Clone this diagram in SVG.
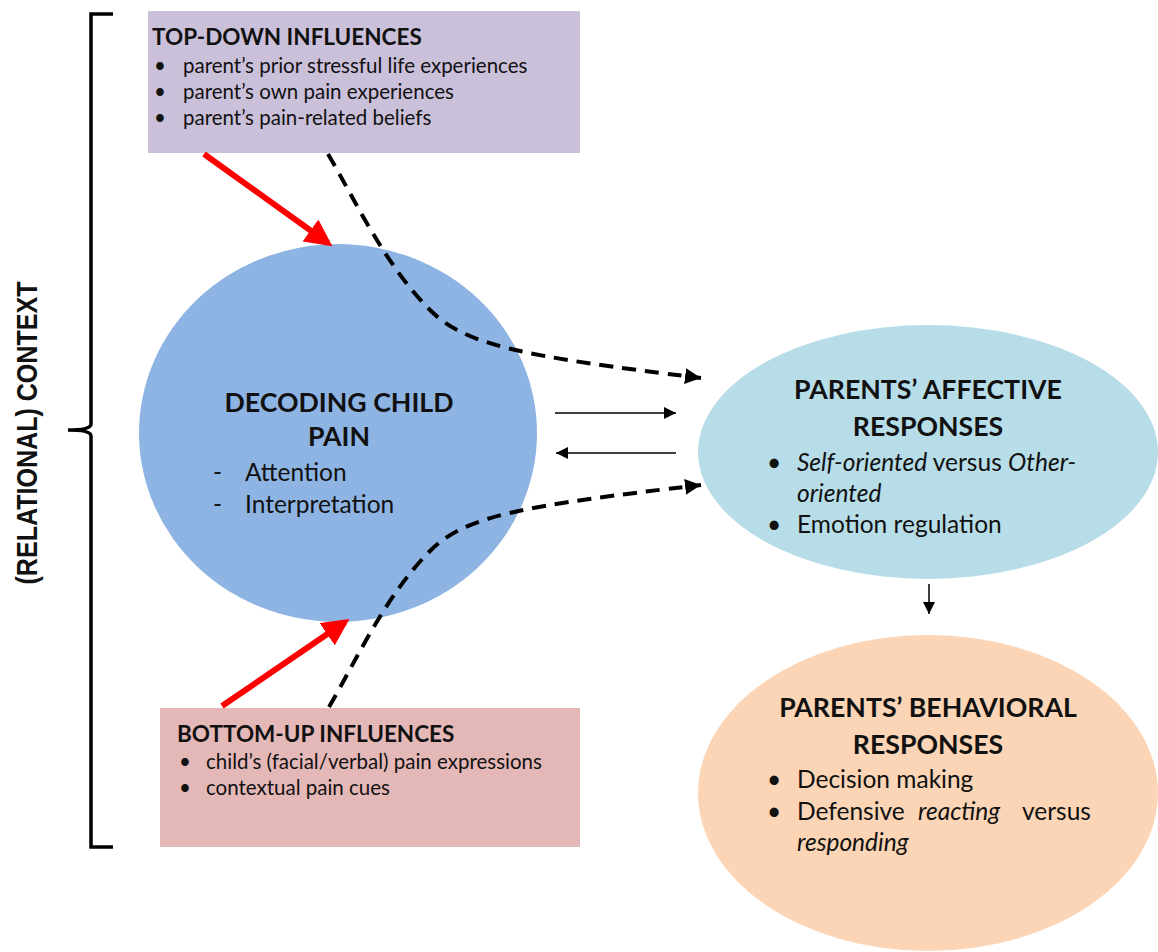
<svg xmlns="http://www.w3.org/2000/svg" width="1158" height="952" viewBox="0 0 1158 952">
<defs>
<style>
text{font-family:Lato,"Open Sans","Liberation Sans",sans-serif;fill:#111;}
.box{font-size:20.5px;}
.bh{font-size:22.5px;font-weight:bold;}
.big{font-size:26.7px;font-weight:bold;}
.mid{font-size:24.5px;}
.it{font-style:italic;}
.dash{fill:none;stroke:#000;stroke-width:4;stroke-dasharray:14,9;}
.thin{fill:none;stroke:#000;stroke-width:1.5;}
.red{fill:none;stroke:#ff0000;stroke-width:6;}
</style>
<marker id="ah" viewBox="0 0 10 10" refX="10" refY="5" markerWidth="4" markerHeight="4" orient="auto" markerUnits="strokeWidth"><path d="M0,0 L10,5 L0,10 z" fill="#000"/></marker>
<marker id="ahs" viewBox="0 0 10 10" refX="10" refY="5" markerWidth="10" markerHeight="8" orient="auto" markerUnits="strokeWidth"><path d="M0,0 L10,5 L0,10 z" fill="#000"/></marker>
<marker id="ahr" viewBox="0 0 10 10" refX="8" refY="5" markerWidth="4.5" markerHeight="4.5" orient="auto" markerUnits="strokeWidth"><path d="M0,0 L10,5 L0,10 z" fill="#ff0000"/></marker>
</defs>
<rect width="1158" height="952" fill="#fff"/>

<g id="context">
<path d="M113,14 L91,14 L91,424 Q91,430 68,430 Q91,430 91,436 L91,847 L113,847" fill="none" stroke="#000" stroke-width="3.5"/>
<text transform="translate(37,433) rotate(-90)" text-anchor="middle" textLength="303" lengthAdjust="spacingAndGlyphs" style="font-family:'Liberation Sans',Arial,sans-serif;font-weight:bold;font-size:30px">(RELATIONAL) CONTEXT</text>
</g>

<g id="top-down">
<rect x="148" y="11" width="432" height="142" fill="#cbc0da"/>
<text x="152" y="45" class="bh">TOP-DOWN INFLUENCES</text>
<text class="box"><tspan x="154" y="73">•</tspan><tspan x="183" y="73">parent’s prior stressful life experiences</tspan></text>
<text class="box"><tspan x="154" y="99">•</tspan><tspan x="183" y="99">parent’s own pain experiences</tspan></text>
<text class="box"><tspan x="154" y="125">•</tspan><tspan x="183" y="125">parent’s pain-related beliefs</tspan></text>
</g>

<g id="bottom-up">
<rect x="160" y="708" width="420" height="139" fill="#e5b8b8"/>
<text x="177" y="742" class="bh">BOTTOM-UP INFLUENCES</text>
<text class="box"><tspan x="179" y="769">•</tspan><tspan x="206" y="769">child’s (facial/verbal) pain expressions</tspan></text>
<text class="box"><tspan x="179" y="795">•</tspan><tspan x="206" y="795">contextual pain cues</tspan></text>
</g>

<g id="decoding">
<ellipse cx="338" cy="433" rx="199" ry="189" fill="#8eb4e3"/>
<text x="339" y="412" class="big" text-anchor="middle">DECODING CHILD</text>
<text x="339" y="446" class="big" text-anchor="middle">PAIN</text>
<text class="mid"><tspan x="213" y="481">-</tspan><tspan x="245" y="481">Attention</tspan></text>
<text class="mid"><tspan x="213" y="513">-</tspan><tspan x="245" y="513">Interpretation</tspan></text>
</g>

<g id="affective">
<ellipse cx="928" cy="452" rx="230" ry="127" fill="#b7dde8"/>
<text x="928" y="399" class="big" text-anchor="middle">PARENTS’ AFFECTIVE</text>
<text x="928" y="436" class="big" text-anchor="middle">RESPONSES</text>
<text class="mid"><tspan x="767" y="471">•</tspan><tspan x="797" y="471" class="it">Self-oriented</tspan><tspan> versus </tspan><tspan class="it">Other-</tspan></text>
<text class="mid it" x="797" y="502">oriented</text>
<text class="mid"><tspan x="767" y="533">•</tspan><tspan x="797" y="533">Emotion regulation</tspan></text>
</g>

<g id="behavioral">
<ellipse cx="928" cy="793" rx="230" ry="158" fill="#fbd5b5"/>
<text x="928" y="717" class="big" text-anchor="middle">PARENTS’ BEHAVIORAL</text>
<text x="928" y="754" class="big" text-anchor="middle">RESPONSES</text>
<text class="mid"><tspan x="767" y="788">•</tspan><tspan x="797" y="788">Decision making</tspan></text>
<text class="mid"><tspan x="767" y="820">•</tspan><tspan x="797" y="820">Defensive</tspan><tspan x="918" y="820" class="it">reacting</tspan><tspan x="1022" y="820">versus</tspan></text>
<text class="mid it" x="797" y="851">responding</text>
</g>

<g id="connectors">
<line x1="204" y1="154" x2="328" y2="243" class="red" marker-end="url(#ahr)"/>
<line x1="222" y1="706" x2="345" y2="622" class="red" marker-end="url(#ahr)"/>
<path d="M328,154 C355,200 385,265 430,310 C465,345 520,356 701,378" class="dash" marker-end="url(#ah)"/>
<path d="M329,707 C356,661 385,596 430,551 C465,516 520,506 701,485" class="dash" marker-end="url(#ah)"/>
<line x1="555" y1="413" x2="676" y2="413" class="thin" marker-end="url(#ahs)"/>
<line x1="676" y1="453" x2="556" y2="453" class="thin" marker-end="url(#ahs)"/>
<line x1="929" y1="584" x2="929" y2="614" class="thin" marker-end="url(#ahs)"/>
</g>
</svg>
